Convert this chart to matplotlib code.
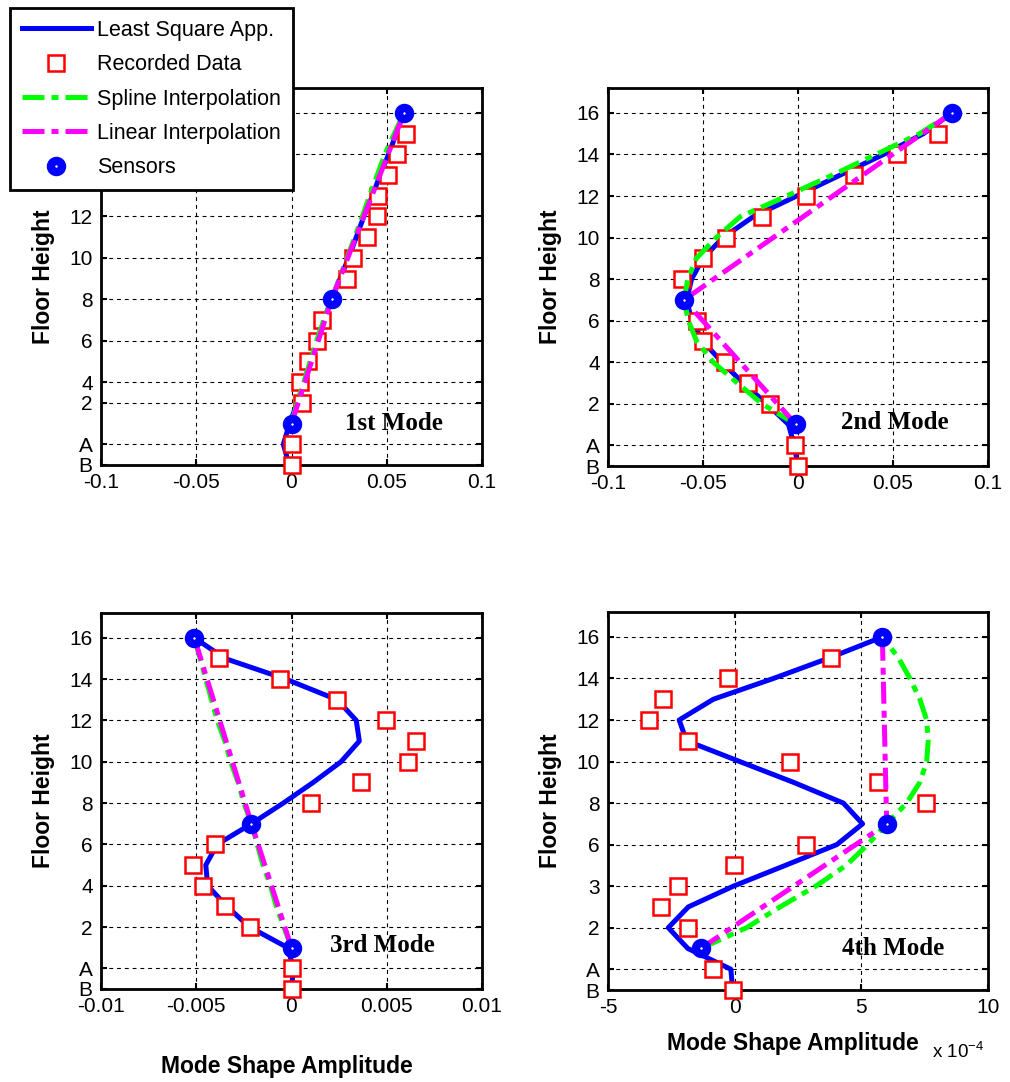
import matplotlib
matplotlib.use('Agg')
import matplotlib.pyplot as plt

plt.rcParams['font.family'] = ['Liberation Sans', 'DejaVu Sans']
plt.rcParams['axes.unicode_minus'] = False

# storey levels: B = -1, A = 0, then floors 1..16
levels = list(range(-1, 17))
rec_levels = [-1, 0, 2, 3, 4, 5, 6, 8, 9, 10, 11, 12, 13, 14, 15]
sensor_levels = [1, 7, 16]
spline_levels = list(range(1, 17))

# 1st mode
m1_lsq = [-0.0012, -0.0043, -0.001, 0.003, 0.0065, 0.010, 0.0135, 0.017, 0.021,
          0.0255, 0.030, 0.034, 0.038, 0.0425, 0.0465, 0.051, 0.055, 0.059]
m1_rec = [0.0, 0.0, 0.0054, 0.0045, 0.0088, 0.0135, 0.0159, 0.0293, 0.0321,
          0.0395, 0.0447, 0.0452, 0.0505, 0.0556, 0.0601]
m1_spline = [0.0, 0.003, 0.0065, 0.0098, 0.0132, 0.017, 0.0211, 0.0252, 0.0292,
             0.0332, 0.0372, 0.041, 0.045, 0.049, 0.054, 0.059]
m1_sensor = [0.0, 0.0211, 0.0591]

# 2nd mode
m2_lsq = [0.0, -0.002, -0.005, -0.0165, -0.029, -0.040, -0.050, -0.056, -0.0586,
          -0.056, -0.050, -0.0394, -0.0236, -0.0007, 0.022, 0.045, 0.066, 0.081]
m2_rec = [0.0, -0.0016, -0.0147, -0.0262, -0.0384, -0.0498, -0.0533, -0.0612,
          -0.0498, -0.0379, -0.0191, 0.0040, 0.0295, 0.0523, 0.0738]
m2_spline = [-0.001, -0.019, -0.032, -0.0446, -0.0533, -0.0577, -0.060, -0.058,
             -0.0535, -0.043, -0.0305, -0.006, 0.018, 0.041, 0.064, 0.081]
m2_sensor = [-0.001, -0.060, 0.081]

# 3rd mode
m3_lsq = [0.0, 0.0001, -0.0002, -0.0022, -0.0034, -0.0044, -0.0045, -0.0039,
          -0.0021, -0.00043, 0.00114, 0.0026, 0.00356, 0.0034, 0.0024, -0.0003,
          -0.0035, -0.0051]
m3_rec = [0.0, 0.00004, -0.00218, -0.00349, -0.00466, -0.00515, -0.00402,
          0.00102, 0.00363, 0.0061, 0.00654, 0.00496, 0.0024, -0.0006, -0.0038]
m3_spline = [0.0, -0.0004, -0.0008, -0.0011, -0.0015, -0.0018, -0.0021, -0.0025,
             -0.0028, -0.0032, -0.0035, -0.0039, -0.0042, -0.0045, -0.0048, -0.0051]
m3_sensor = [0.0, -0.0021, -0.0051]

# 4th mode (x 1e-4)
m4_lsq = [-0.08, -0.15, -1.85, -2.62, -1.83, -0.05, 2.0, 4.03, 5.05, 4.29, 2.32,
          0.2, -1.9, -2.19, -0.84, 1.53, 3.76, 5.83]
m4_rec = [-0.05, -0.87, -1.86, -2.89, -2.25, -0.01, 2.80, 7.55, 5.66, 2.18,
          -1.86, -3.37, -2.84, -0.28, 3.80]
m4_spline = [-1.34, 0.47, 1.79, 3.2, 4.4, 5.25, 6.0, 6.79, 7.31, 7.58, 7.64,
             7.58, 7.31, 6.92, 6.46, 5.83]
m4_sensor = [-1.34, 6.0, 5.83]

xt_big = [-0.1, -0.05, 0, 0.05, 0.1]
xt_big_lab = ['-0.1', '-0.05', '0', '0.05', '0.1']
xt_small = [-0.01, -0.005, 0, 0.005, 0.01]
xt_small_lab = ['-0.01', '-0.005', '0', '0.005', '0.01']
xt_m4 = [-5, 0, 5, 10]
xt_m4_lab = ['-5', '0', '5', '10']

yt_m1 = [-1, 0, 2, 3, 5, 7, 9, 11, 14, 16]
yt_std = [-1, 0, 2, 4, 6, 8, 10, 12, 14, 16]
yt_lab = ['B', 'A', '2', '4', '6', '8', '10', '12', '14', '16']
yt_lab_m4 = ['B', 'A', '2', '3', '6', '8', '10', '12', '14', '16']

dash = (4.4, 1.4, 1.4, 1.4)

fig = plt.figure(figsize=(10.1, 10.82), dpi=100)
W, H = 1010, 1082


def axes_at(left, top, right, bottom):
    return fig.add_axes([left / W, 1 - bottom / H, (right - left) / W, (bottom - top) / H])


def panel(ax, lsq, rec, spline, sensor, xt, xtl, yt, ytl, title, tpos):
    ax.plot(lsq, levels, color='blue', lw=3.6, zorder=3, clip_on=False,
            label='Least Square App.')
    ax.plot(rec, rec_levels, ls='none', marker='s', ms=11, mfc='white',
            mec='red', mew=1.8, zorder=4, clip_on=False, label='Recorded Data')
    ax.plot(spline, spline_levels, color='#00ff00', lw=3.6, dashes=dash,
            dash_capstyle='butt', zorder=5, label='Spline Interpolation')
    ax.plot(sensor, sensor_levels, color='magenta', lw=3.6, dashes=dash,
            dash_capstyle='butt', zorder=6, label='Linear Interpolation')
    ax.plot(sensor, sensor_levels, ls='none', marker='o', ms=8, mfc='white',
            mec='blue', mew=6, zorder=7, clip_on=False, label='Sensors')
    ax.set_xlim(xt[0], xt[-1])
    ax.set_ylim(-1, 17.2)
    ax.set_xticks(xt, xtl)
    ax.set_yticks(yt, ytl)
    ax.grid(True, color='black', lw=0.8, ls=(0, (3.5, 3.5)))
    ax.tick_params(direction='in', top=True, right=True, length=4, width=1.5,
                   labelsize=15, pad=6)
    for s in ax.spines.values():
        s.set_linewidth(2)
    ax.set_ylabel('Floor Height', fontsize=16.5, fontweight='bold')
    ax.yaxis.set_label_coords(-0.121, 0.5)
    ax.text(tpos[0], tpos[1], title, transform=ax.transAxes, ha='center',
            va='center', fontsize=18, fontweight='bold', family='Liberation Serif',
            zorder=8)


ax1 = axes_at(101, 88, 482, 465)
ax2 = axes_at(608, 88, 988, 466)
ax3 = axes_at(101, 613, 482, 989)
ax4 = axes_at(608, 612, 988, 990)

panel(ax1, m1_lsq, m1_rec, m1_spline, m1_sensor, xt_big, xt_big_lab,
      yt_m1, yt_lab, '1st Mode', (0.769, 0.111))
panel(ax2, m2_lsq, m2_rec, m2_spline, m2_sensor, xt_big, xt_big_lab,
      yt_std, yt_lab, '2nd Mode', (0.755, 0.114))
panel(ax3, m3_lsq, m3_rec, m3_spline, m3_sensor, xt_small, xt_small_lab,
      yt_std, yt_lab, '3rd Mode', (0.7375, 0.117))
panel(ax4, m4_lsq, m4_rec, m4_spline, m4_sensor, xt_m4, xt_m4_lab,
      yt_std, yt_lab_m4, '4th Mode', (0.75, 0.111))

ax3.set_xlabel('Mode Shape Amplitude', fontsize=16.5, fontweight='bold')
ax3.xaxis.set_label_coords(0.488, -0.1755)
ax4.set_xlabel('Mode Shape Amplitude', fontsize=16.5, fontweight='bold')
ax4.xaxis.set_label_coords(0.487, -0.111)
fig.text(932 / W, 1 - 1052 / H, r'x 10$^{\mathregular{-4}}$', fontsize=13.5,
         ha='left', va='center')

handles, labels = ax1.get_legend_handles_labels()
leg = fig.legend(handles, labels, loc='upper left',
                 bbox_to_anchor=(10 / W, 1 - 8 / H), borderaxespad=0,
                 fontsize=15.5, handlelength=3.2, handletextpad=0.3,
                 labelspacing=0.62, borderpad=0.55, fancybox=False,
                 edgecolor='black', framealpha=1)
leg.get_frame().set_linewidth(2)
leg.set_zorder(10)

fig.savefig('out.png', dpi=100)
